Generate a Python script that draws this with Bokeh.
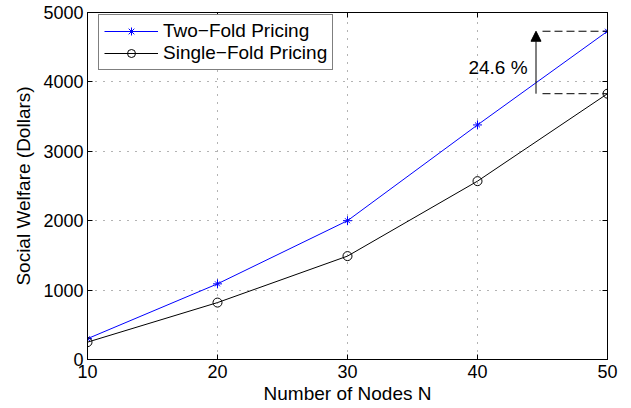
from bokeh.plotting import figure
from bokeh.models import (Range1d, LinearAxis, FixedTicker, Legend, LegendItem, Label,
                          Arrow, NormalHead, CustomJSTickFormatter)
from bokeh.embed import file_html
from bokeh.resources import INLINE

# ---- data ----
nodes = [10, 20, 30, 40, 50]
two_fold = [300, 1090, 2000, 3380, 4730]
single_fold = [250, 820, 1490, 2570, 3830]
x_ticks = [10, 20, 30, 40, 50]
y_ticks = [0, 1000, 2000, 3000, 4000, 5000]
series_names = ["Two\u2212Fold Pricing", "Single\u2212Fold Pricing"]
gain_text = "24.6 %"
gain_arrow_x = 44.5
gain_bracket_x = [45, 50]
gain_text_pos = (43.85, 4207)
x_label = "Number of Nodes N"
y_label = "Social Welfare (Dollars)"

FONT = "Liberation Sans"
W, H = 631, 408

p = figure(width=W, height=H, output_backend="svg", toolbar_location=None, title=None,
           x_range=Range1d(10, 50), y_range=Range1d(0, 5000),
           min_border_left=87, min_border_right=24, min_border_top=12, min_border_bottom=49)
p.background_fill_color = "white"
p.border_fill_color = "white"
p.outline_line_color = "black"
p.outline_line_width = 1

p.xaxis.ticker = FixedTicker(ticks=x_ticks)
p.yaxis.ticker = FixedTicker(ticks=y_ticks)
for ax in (p.xaxis[0], p.yaxis[0]):
    ax.major_tick_in = 5
    ax.major_tick_out = 0
    ax.minor_tick_in = 0
    ax.minor_tick_out = 0
    ax.major_label_text_font = FONT
    ax.major_label_text_font_size = "18px"
    ax.major_label_text_color = "black"
    ax.major_label_standoff = 4
    ax.axis_line_color = "black"
    ax.major_tick_line_color = "black"
    ax.axis_label_text_font = FONT
    ax.axis_label_text_font_size = "19px"
    ax.axis_label_text_font_style = "normal"
    ax.axis_label_text_color = "black"
p.xaxis.major_label_standoff = 5
p.xaxis.axis_label = x_label
p.xaxis.axis_label_standoff = 2
p.yaxis.axis_label = y_label
p.yaxis.axis_label_standoff = 6

# mirrored axes (ticks only)
for loc, ticks in (("above", x_ticks), ("right", y_ticks)):
    ax = LinearAxis(ticker=FixedTicker(ticks=ticks),
                    formatter=CustomJSTickFormatter(code="return ''"),
                    major_tick_in=5, major_tick_out=0, minor_tick_in=0, minor_tick_out=0,
                    major_label_standoff=0, major_label_text_font_size="0px",
                    axis_line_color="black", major_tick_line_color="black")
    p.add_layout(ax, loc)

for g in (p.xgrid[0], p.ygrid[0]):
    g.grid_line_color = "black"
    g.grid_line_alpha = 0.6
    g.grid_line_dash = "1 7"
    g.grid_line_width = 1

# series
l1 = p.line(nodes, two_fold, line_color="#0000ff", line_width=1)
s1a = p.scatter(nodes, two_fold, marker="cross", size=9, line_color="#0000ff", line_width=1)
s1b = p.scatter(nodes, two_fold, marker="x", size=7, line_color="#0000ff", line_width=1)
l2 = p.line(nodes, single_fold, line_color="black", line_width=1)
s2 = p.scatter(nodes, single_fold, marker="circle", size=9, line_color="black",
               fill_color=None, line_width=1)

# gain annotation
p.line(gain_bracket_x, [two_fold[-1]] * 2, line_color="black", line_dash="8 4", line_width=1)
p.line(gain_bracket_x, [single_fold[-1]] * 2, line_color="black", line_dash="8 4", line_width=1)
p.add_layout(Arrow(end=NormalHead(size=10, fill_color="black", line_color="black"),
                   x_start=gain_arrow_x, y_start=single_fold[-1],
                   x_end=gain_arrow_x, y_end=two_fold[-1],
                   line_color="black", line_width=1))
p.add_layout(Label(x=gain_text_pos[0], y=gain_text_pos[1], text=gain_text,
                   text_align="right", text_baseline="middle",
                   text_font=FONT, text_font_size="19px", text_color="black"))

legend = Legend(items=[LegendItem(label=series_names[0], renderers=[l1, s1a, s1b]),
                       LegendItem(label=series_names[1], renderers=[l2, s2])],
                location=(11, 289), margin=0, padding=5, spacing=0,
                glyph_width=54, glyph_height=20, label_height=20, label_standoff=5,
                label_text_font=FONT, label_text_font_size="19px", label_text_color="black",
                border_line_color="black", border_line_width=1,
                background_fill_color="white", background_fill_alpha=1)
p.add_layout(legend)

open("out.html", "w").write(file_html(p, INLINE))
